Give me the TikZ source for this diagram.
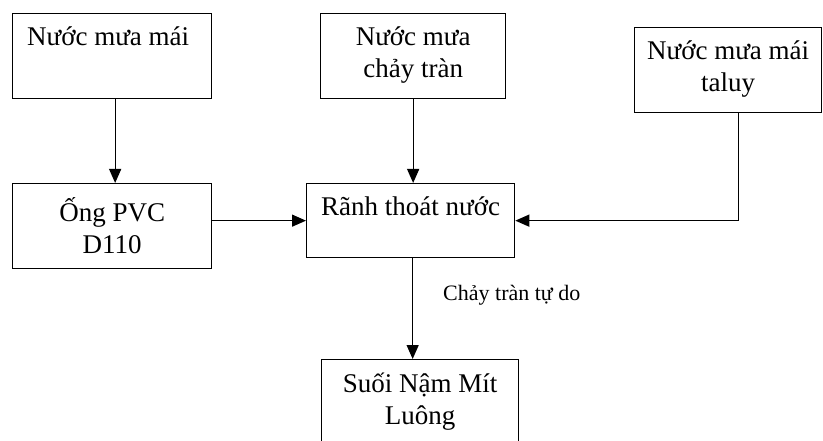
\documentclass[tikz,border=0pt]{standalone}
\usepackage{fontspec}
\setmainfont{Liberation Serif}
\usetikzlibrary{arrows.meta,calc}
\begin{document}
\begin{tikzpicture}[x=1pt,y=-1pt,
  box/.style={draw, line width=1.3pt, anchor=north west, inner sep=0pt},
  boxtext/.style={anchor=north, align=center, inner sep=0pt,
    font=\fontsize{27}{32}\selectfont},
  flow/.style={line width=1.3pt, -{Triangle[length=14pt,width=12pt]}},
  note/.style={font=\fontsize{22}{26}\selectfont, inner sep=0pt}]
  \useasboundingbox (0,0) rectangle (823,441);

  % boxes
  \node[box, minimum width=199pt, minimum height=85pt] (b1) at (12,13) {};
  \node[box, minimum width=185pt, minimum height=85pt] (b2) at (320,13) {};
  \node[box, minimum width=187pt, minimum height=85pt] (b3) at (634,27) {};
  \node[box, minimum width=199pt, minimum height=85pt] (b4) at (12,183) {};
  \node[box, minimum width=208pt, minimum height=74pt] (b5) at (306,183) {};
  \node[box, minimum width=197pt, minimum height=90pt] (b6) at (321,359) {};

  % box texts
  \node[boxtext] (t1) at ($(b1.north)+(-4,14)$) {Nước mưa mái};
  \node[boxtext] (t2) at ($(b2.north)+(0,14)$) {Nước mưa\\chảy tràn};
  \node[boxtext] (t3) at ($(b3.north)+(0,14)$) {Nước mưa mái\\taluy};
  \node[boxtext] (t4) at ($(b4.north)+(0,14)$) {Ống PVC\\D110};
  \node[boxtext] (t5) at ($(b5.north)+(0,14)$) {Rãnh thoát nước};
  \node[boxtext] (t6) at ($(b6.north)+(0,14)$) {Suối Nậm Mít\\Luông};

  % connector ends
  \coordinate (c1) at ($(b1.south)+(3,0)$);
  \coordinate (c3) at ($(b3.south)+(10.5,0)$);
  \coordinate (c5) at ($(b5.south)+(2,0)$);

  % connectors
  \draw[flow] (c1) -- (c1 |- b4.north);
  \draw[flow] (b2.south) -- (b2.south |- b5.north);
  \draw[flow] (b4.east |- b5.west) -- (b5.west);
  \draw[flow] (c3) |- (b5.east);
  \draw[flow] (c5) -- (c5 |- b6.north);

  \node[note, anchor=west] (lbl) at (443,295) {Chảy tràn tự do};
\end{tikzpicture}
\end{document}
